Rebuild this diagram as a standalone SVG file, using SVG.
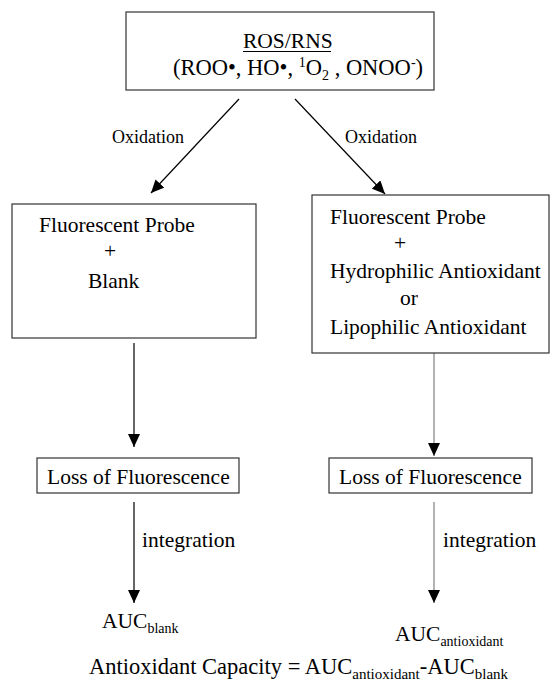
<svg xmlns="http://www.w3.org/2000/svg" width="551" height="694" viewBox="0 0 551 694">
<defs>
<style>
text{font-family:"Liberation Serif","Times New Roman",serif;fill:#000;font-size:21.5px}
.box{fill:#fff;stroke:#333;stroke-width:1.2}
.lbl{font-size:18px}
.sub{font-size:14px}
.ln{stroke:#000;stroke-width:1.2;fill:none}
.lg{stroke:#999;stroke-width:1.5;fill:none}
</style>
<marker id="ah" markerUnits="userSpaceOnUse" markerWidth="14" markerHeight="12" refX="13" refY="6" orient="auto">
<path d="M0,0 L13,6 L0,12 z" fill="#000"/>
</marker>
</defs>
<g id="connectors">
<line class="ln" x1="239" y1="99" x2="151" y2="193" marker-end="url(#ah)"/>
<line class="ln" x1="295" y1="99" x2="385" y2="194" marker-end="url(#ah)"/>
<line class="ln" x1="134" y1="343" x2="134" y2="447" marker-end="url(#ah)"/>
<line class="lg" x1="434" y1="353" x2="434" y2="456" marker-end="url(#ah)"/>
<line class="ln" x1="134" y1="502" x2="134" y2="603" marker-end="url(#ah)"/>
<line class="lg" x1="434" y1="502" x2="434" y2="603" marker-end="url(#ah)"/>
<text class="lbl" x="112" y="143">Oxidation</text>
<text class="lbl" x="345" y="143">Oxidation</text>
<text x="142" y="547">integration</text>
<text x="443" y="547">integration</text>
</g>
<g id="ros">
<rect class="box" x="126" y="12" width="308" height="78"/>
<text x="243" y="48">ROS/RNS</text>
<line x1="243" y1="51.5" x2="331" y2="51.5" stroke="#000" stroke-width="1"/>
<text x="173" y="75" style="font-size:22.5px">(ROO•, HO•, <tspan class="sub" dy="-8">1</tspan><tspan dy="8">O</tspan><tspan class="sub" dy="5">2</tspan><tspan dy="-5"> , ONOO</tspan><tspan class="sub" dy="-8">-</tspan><tspan dy="8">)</tspan></text>
</g>
<g id="blank-mix">
<rect class="box" x="12" y="204" width="244" height="134"/>
<text x="39" y="232">Fluorescent Probe</text>
<text x="104" y="258">+</text>
<text x="88" y="288">Blank</text>
</g>
<g id="antiox-mix">
<rect class="box" x="312" y="195" width="237" height="158"/>
<text x="330" y="224">Fluorescent Probe</text>
<text x="394" y="250">+</text>
<text x="330" y="278">Hydrophilic Antioxidant</text>
<text x="400" y="305">or</text>
<text x="330" y="334">Lipophilic Antioxidant</text>
</g>
<g id="loss-left">
<rect class="box" x="37" y="458" width="202" height="35"/>
<text x="47" y="484">Loss of Fluorescence</text>
</g>
<g id="loss-right">
<rect class="box" x="329" y="458" width="203" height="35"/>
<text x="339" y="484">Loss of Fluorescence</text>
</g>
<g id="auc-blank">
<text x="102" y="628">AUC<tspan class="sub" dy="5">blank</tspan></text>
</g>
<g id="auc-antiox">
<text x="395" y="641">AUC<tspan class="sub" dy="5">antioxidant</tspan></text>
</g>
<g id="capacity">
<text x="89" y="674" style="font-size:22.5px">Antioxidant Capacity = AUC<tspan class="sub" style="font-size:15px" dy="5">antioxidant</tspan><tspan dy="-5">-AUC</tspan><tspan class="sub" style="font-size:15px" dy="5">blank</tspan></text>
</g>
</svg>
